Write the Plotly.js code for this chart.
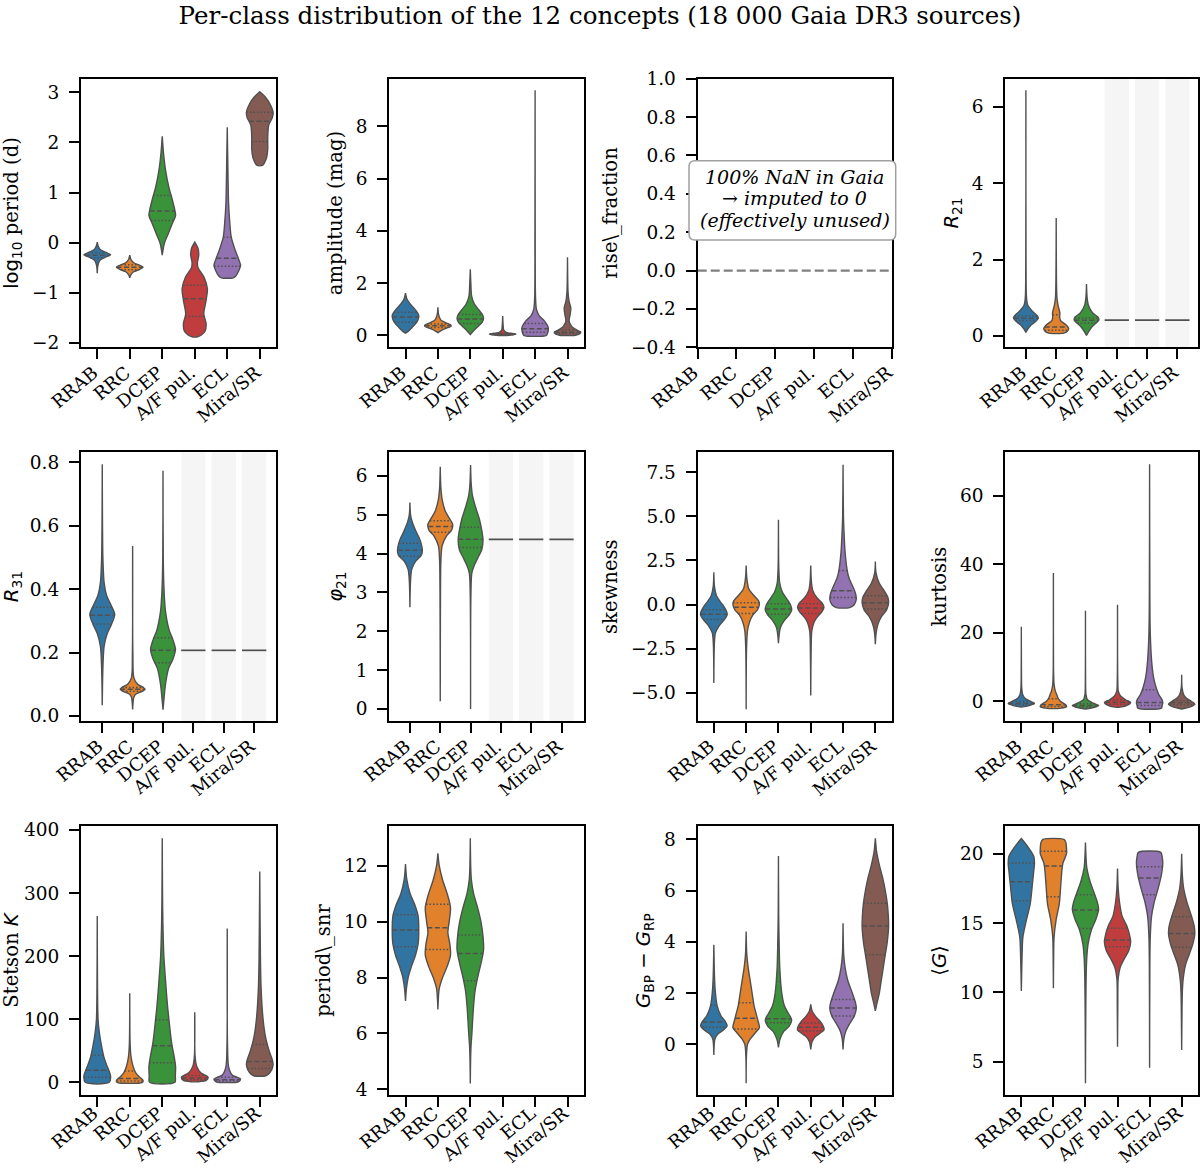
<!DOCTYPE html>
<html><head><meta charset="utf-8">
<script src="https://cdn.plot.ly/plotly-3.0.1.min.js"></script>
<style>body{margin:0;background:#fff}#chart{width:1200px;height:1171px}</style>
</head><body><div id="chart"></div>
<script>
// ---------------- DATA ----------------
const classes = ["RRAB", "RRC", "DCEP", "A/F pul.", "ECL", "Mira/SR"];

// Violin outlines: [value, relative half-width (1 = widest)] ; quartiles: [q1, median, q3]
const logPeriodProfiles = [
  [[-0.61,0],[-0.45,0.05],[-0.35,0.2],[-0.29,0.6],[-0.24,1.0],[-0.19,0.6],[-0.13,0.2],[-0.05,0.05],[0.01,0]],
  [[-0.70,0],[-0.64,0.08],[-0.58,0.3],[-0.53,0.75],[-0.49,1.0],[-0.45,0.75],[-0.40,0.3],[-0.33,0.08],[-0.25,0]],
  [[-0.25,0],[-0.02,0.15],[0.18,0.45],[0.38,0.75],[0.54,1.0],[0.64,0.95],[0.91,0.7],[1.1,0.5],[1.44,0.25],[1.77,0.1],[2.12,0]],
  [[-1.88,0.15],[-1.84,0.5],[-1.76,0.78],[-1.61,0.85],[-1.42,0.68],[-1.15,0.85],[-0.92,0.95],[-0.69,0.7],[-0.5,0.25],[-0.4,0.2],[-0.25,0.3],[-0.12,0.25],[0.01,0]],
  [[-0.70,0.45],[-0.66,0.65],[-0.55,0.88],[-0.45,1.0],[-0.35,0.88],[-0.15,0.6],[0.11,0.3],[0.44,0.18],[0.78,0.1],[1.44,0.05],[2.30,0]],
  [[1.54,0.2],[1.59,0.35],[1.7,0.52],[1.87,0.6],[2.1,0.6],[2.34,0.67],[2.5,0.95],[2.6,1.0],[2.77,0.76],[2.9,0.43],[3.01,0]]
];
const logPeriodQuartiles = [[-0.30,-0.25,-0.20],[-0.54,-0.49,-0.44],[0.44,0.63,0.94],[-1.47,-1.12,-0.85],[-0.47,-0.31,0.11],[2.02,2.42,2.60]];

const amplitudeProfiles = [
  [[0.08,0],[0.15,0.2],[0.3,0.5],[0.5,0.85],[0.7,1.0],[0.8,0.97],[1.0,0.7],[1.2,0.35],[1.4,0.1],[1.61,0]],
  [[0.10,0],[0.2,0.3],[0.3,0.8],[0.35,1.0],[0.4,0.95],[0.5,0.5],[0.6,0.2],[0.8,0.05],[1.07,0]],
  [[0.03,0],[0.2,0.3],[0.35,0.6],[0.5,0.9],[0.65,1.0],[0.8,0.9],[1.0,0.6],[1.2,0.3],[1.5,0.1],[2.0,0.04],[2.53,0]],
  [[0.0,0.5],[0.02,0.8],[0.04,1.0],[0.06,0.9],[0.1,0.3],[0.2,0.08],[0.4,0.03],[0.74,0]],
  [[0.0,0.85],[0.1,0.95],[0.25,1.0],[0.35,0.95],[0.55,0.7],[0.75,0.3],[1.0,0.1],[1.5,0.03],[3.0,0.01],[9.38,0]],
  [[0.0,0.6],[0.05,0.9],[0.12,1.0],[0.2,0.7],[0.35,0.3],[0.55,0.12],[0.8,0.2],[1.05,0.25],[1.3,0.12],[1.6,0.05],[2.0,0.02],[2.99,0]]
];
const amplitudeQuartiles = [[0.50,0.70,0.88],[0.30,0.36,0.43],[0.45,0.62,0.80],[0.03,0.05,0.07],[0.12,0.25,0.45],[0.07,0.12,0.20]];

const riseFractionValue = 0.0;   // 100% NaN, imputed to 0

const r21Profiles = [
  [[0.09,0],[0.18,0.15],[0.28,0.4],[0.38,0.8],[0.47,1.0],[0.55,0.85],[0.65,0.5],[0.8,0.15],[1.0,0.05],[2.0,0.01],[6.44,0]],
  [[0.07,0.6],[0.12,0.9],[0.2,1.0],[0.3,0.75],[0.4,0.35],[0.5,0.28],[0.6,0.3],[0.8,0.15],[1.0,0.06],[1.5,0.02],[3.09,0]],
  [[0.01,0],[0.1,0.15],[0.22,0.4],[0.33,0.75],[0.42,1.0],[0.5,0.9],[0.6,0.5],[0.8,0.15],[1.0,0.05],[1.36,0]],
  null, null, null
];
const r21Quartiles = [[0.40,0.46,0.52],[0.15,0.23,0.55],[0.33,0.41,0.47],null,null,null];
const r21Constant = 0.41;

const r31Profiles = [
  [[0.034,0],[0.15,0.05],[0.22,0.15],[0.26,0.4],[0.29,0.75],[0.32,1.0],[0.35,0.7],[0.38,0.35],[0.42,0.15],[0.5,0.05],[0.6,0.02],[0.794,0]],
  [[0.02,0],[0.04,0.03],[0.06,0.1],[0.07,0.3],[0.078,0.8],[0.084,1.0],[0.09,0.85],[0.1,0.4],[0.12,0.1],[0.2,0.02],[0.536,0]],
  [[0.02,0],[0.05,0.07],[0.1,0.2],[0.15,0.45],[0.18,0.8],[0.21,1.0],[0.24,0.8],[0.27,0.5],[0.33,0.2],[0.4,0.08],[0.5,0.02],[0.774,0]],
  null, null, null
];
const r31Quartiles = [[0.29,0.318,0.343],[0.078,0.084,0.090],[0.168,0.207,0.247],null,null,null];
const r31Constant = 0.207;

const phi21Profiles = [
  [[2.62,0],[3.3,0.05],[3.6,0.15],[3.8,0.45],[3.95,0.9],[4.07,1.0],[4.2,0.95],[4.4,0.75],[4.6,0.45],[4.8,0.2],[5.0,0.05],[5.32,0]],
  [[0.2,0],[3.0,0.02],[3.8,0.05],[4.2,0.15],[4.45,0.5],[4.6,0.9],[4.75,1.0],[4.9,0.75],[5.1,0.4],[5.4,0.15],[5.7,0.05],[6.24,0]],
  [[0,0],[3.0,0.03],[3.5,0.1],[3.7,0.3],[3.9,0.6],[4.1,0.9],[4.35,1.0],[4.6,0.9],[4.9,0.7],[5.2,0.4],[5.5,0.15],[5.8,0.05],[6.28,0]],
  null, null, null
];
const phi21Quartiles = [[3.93,4.09,4.27],[4.55,4.70,4.85],[4.16,4.37,4.68],null,null,null];
const phi21Constant = 4.37;

const skewnessProfiles = [
  [[-4.45,0],[-2.2,0.04],[-1.6,0.12],[-1.2,0.4],[-0.9,0.75],[-0.6,1.0],[-0.4,0.97],[-0.1,0.75],[0.2,0.45],[0.5,0.2],[1.0,0.05],[1.83,0]],
  [[-5.93,0],[-2.5,0.03],[-1.5,0.1],[-1.0,0.25],[-0.6,0.5],[-0.3,0.85],[0.0,1.0],[0.2,0.95],[0.5,0.6],[0.9,0.2],[1.5,0.05],[2.21,0]],
  [[-2.19,0],[-1.8,0.04],[-1.3,0.15],[-0.9,0.45],[-0.6,0.8],[-0.3,1.0],[0.0,0.9],[0.3,0.65],[0.7,0.3],[1.2,0.1],[2.0,0.03],[4.8,0]],
  [[-5.15,0],[-2.5,0.03],[-1.5,0.08],[-1.0,0.25],[-0.7,0.5],[-0.4,0.85],[-0.15,1.0],[0.1,0.85],[0.4,0.45],[0.8,0.15],[1.3,0.05],[2.21,0]],
  [[-0.17,0.5],[0.0,0.85],[0.3,1.0],[0.6,0.95],[1.0,0.75],[1.5,0.45],[2.0,0.3],[3.0,0.15],[4.0,0.08],[5.0,0.03],[7.92,0]],
  [[-2.25,0],[-1.6,0.06],[-1.1,0.2],[-0.7,0.45],[-0.3,0.85],[0.1,1.0],[0.4,0.95],[0.8,0.65],[1.2,0.3],[1.8,0.05],[2.44,0]]
];
const skewnessQuartiles = [[-0.85,-0.55,-0.30],[-0.50,-0.15,0.10],[-0.55,-0.25,0.05],[-0.50,-0.20,0.05],[0.40,0.78,1.93],[-0.25,0.10,0.50]];

const kurtosisProfiles = [
  [[-1.65,0],[-1.2,0.6],[-0.6,1.0],[0,0.7],[1,0.25],[2,0.1],[4,0.03],[8,0.01],[21.8,0]],
  [[-1.94,0.6],[-1.5,1.0],[-1,0.95],[0,0.55],[1,0.35],[2,0.25],[3,0.15],[5,0.05],[10,0.01],[37.4,0]],
  [[-2.2,0],[-1.7,0.7],[-1.2,1.0],[-0.5,0.6],[0.5,0.15],[2,0.04],[5,0.01],[26.4,0]],
  [[-1.65,0.2],[-1.0,0.8],[-0.3,1.0],[0.5,0.6],[1.5,0.25],[3,0.06],[6,0.02],[28.2,0]],
  [[-1.94,0.9],[-1.2,0.95],[-0.5,1.0],[0.5,0.95],[2,0.7],[4,0.5],[7,0.3],[12,0.15],[20,0.05],[30,0.02],[69.1,0]],
  [[-2.2,0],[-1.5,0.7],[-0.8,1.0],[0,0.75],[1,0.35],[2,0.15],[4,0.03],[7.8,0]]
];
const kurtosisQuartiles = [[-1.0,-0.6,0.0],[-1.5,-1.0,0.8],[-1.6,-1.2,-0.7],[-0.8,-0.2,0.5],[-1.2,-0.3,3.4],[-1.0,-0.4,0.2]];

const stetsonProfiles = [
  [[0,0.9],[10,1.0],[25,0.75],[40,0.5],[60,0.3],[80,0.15],[100,0.06],[150,0.02],[263.7,0]],
  [[0,0.95],[3,1.0],[8,0.75],[15,0.45],[25,0.25],[40,0.1],[60,0.03],[141,0]],
  [[0,0.95],[10,0.98],[25,1.0],[40,0.9],[60,0.72],[80,0.6],[100,0.5],[120,0.4],[160,0.25],[200,0.12],[250,0.05],[300,0.02],[386.8,0]],
  [[1,0.3],[3,0.85],[8,1.0],[15,0.45],[25,0.15],[40,0.03],[111,0]],
  [[0,0.7],[1,0.85],[5,1.0],[12,0.35],[25,0.1],[60,0.02],[244,0]],
  [[10,0.4],[13,0.65],[20,0.9],[28,1.0],[35,0.95],[50,0.7],[70,0.45],[100,0.25],[150,0.1],[200,0.05],[334,0]]
];
const stetsonQuartiles = [[8,19,43],[2,6,18],[31,58,99],[4,7,11],[2,4,8],[22,33,60]];

const periodSnrProfiles = [
  [[7.16,0],[7.6,0.07],[8.0,0.2],[8.4,0.45],[8.8,0.75],[9.2,0.95],[9.7,1.0],[10.2,0.95],[10.6,0.7],[11.0,0.35],[11.5,0.1],[12.06,0]],
  [[6.86,0],[7.2,0.03],[7.6,0.1],[8.0,0.35],[8.4,0.7],[8.8,0.95],[9.2,0.9],[9.6,0.75],[10.0,0.85],[10.5,0.95],[11.0,0.7],[11.5,0.35],[12.0,0.1],[12.44,0]],
  [[4.21,0],[5.0,0.02],[5.5,0.05],[6.0,0.12],[6.5,0.18],[7.0,0.25],[7.5,0.35],[8.0,0.55],[8.5,0.8],[9.0,1.0],[9.5,0.95],[10.0,0.8],[10.5,0.55],[11.0,0.25],[11.5,0.08],[12.0,0.03],[12.98,0]],
  null, null, null
];
const periodSnrQuartiles = [[9.10,9.70,10.25],[9.00,9.78,10.62],[7.89,8.86,9.52],null,null,null];

const bpRpProfiles = [
  [[-0.42,0],[0,0.03],[0.2,0.08],[0.4,0.3],[0.55,0.7],[0.72,1.0],[0.9,0.85],[1.1,0.55],[1.5,0.25],[2.0,0.12],[2.5,0.06],[3.0,0.03],[3.88,0]],
  [[-1.52,0],[-0.5,0.02],[0,0.1],[0.2,0.3],[0.45,0.7],[0.65,1.0],[0.9,0.9],[1.2,0.75],[1.5,0.6],[2.0,0.45],[2.5,0.3],[3.0,0.15],[3.5,0.05],[4.4,0]],
  [[-0.12,0],[0.2,0.12],[0.5,0.4],[0.7,0.8],[0.95,1.0],[1.2,0.75],[1.5,0.45],[2.0,0.25],[3.0,0.1],[4.0,0.05],[5.0,0.02],[7.35,0]],
  [[-0.2,0],[0.1,0.1],[0.3,0.35],[0.45,0.75],[0.56,1.0],[0.7,0.95],[0.9,0.7],[1.1,0.35],[1.3,0.1],[1.56,0]],
  [[-0.2,0],[0.2,0.06],[0.5,0.2],[0.8,0.5],[1.1,0.85],[1.4,1.0],[1.6,0.95],[2.0,0.7],[2.5,0.35],[3.0,0.15],[3.5,0.05],[4.72,0]],
  [[1.3,0],[1.6,0.12],[2.0,0.3],[2.5,0.45],[3.0,0.6],[3.5,0.75],[4.0,0.9],[4.6,1.0],[5.0,0.98],[5.5,0.9],[6.0,0.75],[6.5,0.55],[7.0,0.3],[7.5,0.1],[8.04,0]]
];
const bpRpQuartiles = [[0.66,0.87,1.52],[0.60,1.02,1.62],[0.84,1.00,2.45],[0.52,0.66,0.83],[1.10,1.42,1.75],[3.49,4.62,5.50]];

const meanGProfiles = [
  [[10.1,0],[12.8,0.06],[14.0,0.12],[15.2,0.38],[16.4,0.68],[17.6,0.82],[18.8,0.95],[19.3,1.0],[19.8,0.95],[20.5,0.5],[21.1,0]],
  [[10.3,0],[12.6,0.02],[14.0,0.05],[15.2,0.2],[16.4,0.45],[17.6,0.55],[19.3,0.72],[20.0,1.0],[20.3,1.0],[20.8,0.95],[21.03,0.8]],
  [[3.44,0],[8,0.02],[11,0.05],[12.5,0.1],[13.5,0.2],[14.5,0.45],[15.3,0.8],[16.0,1.0],[16.5,0.9],[17.2,0.65],[18,0.35],[19,0.1],[20,0.03],[20.8,0]],
  [[6.08,0],[9,0.02],[11,0.05],[11.8,0.2],[12.4,0.5],[13.0,0.85],[13.65,1.0],[14.2,0.9],[14.8,0.7],[15.5,0.35],[16.5,0.15],[17.5,0.05],[18.94,0]],
  [[4.57,0],[12,0.02],[14,0.05],[15.5,0.15],[16.5,0.35],[17.5,0.65],[18.5,0.9],[19.3,1.0],[19.8,0.95],[20.1,0.85]],
  [[5.84,0],[8,0.02],[10,0.05],[11,0.12],[12,0.3],[12.8,0.6],[13.5,0.85],[14.25,1.0],[14.8,0.95],[15.5,0.75],[16.5,0.4],[17.5,0.15],[18.5,0.05],[20.0,0]]
];
const meanGQuartiles = [[16.61,17.98,19.33],[16.90,19.11,20.17],[14.60,15.95,17.04],[13.29,13.77,14.62],[17.04,18.25,19.06],[13.25,14.25,15.46]];

const noteLines = ["100% NaN in Gaia", "→ imputed to 0", "(effectively unused)"];

// ---------------- STYLE ----------------
const fillColors = ["#3274a1","#e1812c","#3a923a","#c03d3e","#9372b2","#845b53"];
const EDGE = "#505050";
const HALF = 0.41;
const SERIF = "DejaVu Serif";
const SANS = "DejaVu Sans";
const TICK_SIZE = 18.5, XTICK_SIZE = 18, LABEL_SIZE = 19.6;
const sans = t => `<span style="font-family:'${SANS}'">${t}</span>`;

const colDom = [[81,276],[389.3,583.7],[697.7,891.5],[1005.3,1197.7]].map(a => [a[0]/1200, a[1]/1200]);
const rowDom = [[78.7,347.3],[452.3,721.0],[826,1095]].map(a => [1 - a[1]/1171, 1 - a[0]/1171]);
const rowLabelStandoff = [-4, -4, -11];

const panels = [
  {prof: logPeriodProfiles, q: logPeriodQuartiles, title: sans("log<sub>10</sub>") + " period (d)", yr: [-2.086, 3.27], dtick: 1, xr: [-0.5, 5.5]},
  {prof: amplitudeProfiles, q: amplitudeQuartiles, title: "amplitude (mag)", yr: [-0.46, 9.82], dtick: 2, xr: [-0.5, 5.5]},
  {prof: null, q: null, title: "rise\\_fraction", yr: [-0.4, 1.0], dtick: 0.2, fmt: ".1f", xr: [0, 5], rise: true},
  {prof: r21Profiles, q: r21Quartiles, flat: r21Constant, title: sans("<i>R</i><sub>21</sub>"), yr: [-0.30, 6.74], dtick: 2, xr: [-0.68, 5.67]},
  {prof: r31Profiles, q: r31Quartiles, flat: r31Constant, title: sans("<i>R</i><sub>31</sub>"), yr: [-0.016, 0.832], dtick: 0.2, fmt: ".1f", xr: [-0.70, 5.72]},
  {prof: phi21Profiles, q: phi21Quartiles, flat: phi21Constant, title: sans("<i>φ</i><sub>21</sub>"), yr: [-0.31, 6.61], dtick: 1, xr: [-0.68, 5.73]},
  {prof: skewnessProfiles, q: skewnessQuartiles, title: "skewness", yr: [-6.60, 8.63], dtick: 2.5, fmt: ".1f", xr: [-0.5, 5.5]},
  {prof: kurtosisProfiles, q: kurtosisQuartiles, title: "kurtosis", yr: [-5.7, 72.6], dtick: 20, xr: [-0.5, 5.5]},
  {prof: stetsonProfiles, q: stetsonQuartiles, title: "Stetson " + sans("<i>K</i>"), yr: [-20.1, 406.3], dtick: 100, xr: [-0.5, 5.5]},
  {prof: periodSnrProfiles, q: periodSnrQuartiles, title: "period\\_snr", yr: [3.80, 13.42], dtick: 2, xr: [-0.5, 5.5]},
  {prof: bpRpProfiles, q: bpRpQuartiles, title: sans("<i>G</i><sub>BP</sub> − <i>G</i><sub>RP</sub>"), yr: [-1.98, 8.52], dtick: 2, xr: [-0.5, 5.5]},
  {prof: meanGProfiles, q: meanGQuartiles, title: sans("⟨<i>G</i>⟩"), yr: [2.6, 22.0], dtick: 5, xr: [-0.5, 5.5]}
];

function widthAt(prof, v) {
  if (v <= prof[0][0]) return prof[0][1];
  for (let j = 1; j < prof.length; j++) {
    if (v <= prof[j][0]) {
      const a = prof[j-1], b = prof[j];
      return a[1] + (b[1] - a[1]) * (v - a[0]) / (b[0] - a[0]);
    }
  }
  return prof[prof.length-1][1];
}

const traces = [];
const shapes = [];
const annotations = [];
const layout = {
  width: 1200, height: 1171,
  margin: {l: 0, r: 0, t: 0, b: 0},
  paper_bgcolor: "#fff", plot_bgcolor: "#fff",
  showlegend: false,
  font: {family: SERIF, color: "#000"},
  title: {text: "Per-class distribution of the 12 concepts (18 000 Gaia DR3 sources)",
          font: {family: SERIF, size: 24.5, color: "#000"},
          x: 0.5, xanchor: "center", xref: "paper", y: 1 - 15/1171, yanchor: "middle", yref: "container"}
};

panels.forEach((p, k) => {
  const n = k + 1;
  const xa = n === 1 ? "x" : "x" + n, ya = n === 1 ? "y" : "y" + n;
  const col = k % 4, row = Math.floor(k / 4);
  layout[n === 1 ? "xaxis" : "xaxis" + n] = {
    domain: colDom[col], range: p.xr, anchor: ya,
    tickmode: "array", tickvals: classes.map((c, i) => i), ticktext: classes, tickangle: -40,
    ticks: "outside", ticklen: 10, tickwidth: 2, tickcolor: "#000",
    ticklabelstandoff: rowLabelStandoff[row], ticklabelshift: -4,
    showline: true, linecolor: "#000", linewidth: 2.1, mirror: true,
    showgrid: false, zeroline: false, fixedrange: true,
    tickfont: {family: SERIF, size: XTICK_SIZE, color: "#000"}
  };
  layout[n === 1 ? "yaxis" : "yaxis" + n] = {
    domain: rowDom[row], range: p.yr, anchor: xa,
    tickmode: "linear", tick0: 0, dtick: p.dtick, tickformat: p.fmt || "",
    ticks: "outside", ticklen: 10, tickwidth: 2, tickcolor: "#000",
    ticklabelstandoff: 6,
    showline: true, linecolor: "#000", linewidth: 2.1, mirror: true,
    showgrid: false, zeroline: false, fixedrange: true,
    tickfont: {family: SERIF, size: TICK_SIZE, color: "#000"},
    title: {text: p.title, font: {family: SERIF, size: LABEL_SIZE, color: "#000"}, standoff: 8}
  };

  if (p.rise) {
    traces.push({type: "scatter", mode: "lines", xaxis: xa, yaxis: ya, x: [p.xr[0], p.xr[1]], y: [riseFractionValue, riseFractionValue],
      line: {color: "#808080", width: 2.2, dash: "9px,4px"}, hoverinfo: "skip"});
    return;
  }

  const medX = [], medY = [], qX = [], qY = [];
  classes.forEach((c, i) => {
    const prof = p.prof[i];
    if (!prof) {
      if (p.flat === undefined) return;   // no data drawn for this class
      // constant class: shaded band + flat line
      shapes.push({type: "rect", layer: "below", xref: xa, yref: ya + " domain", x0: i - 0.4, x1: i + 0.4, y0: 0, y1: 1,
        fillcolor: "#f5f5f5", line: {width: 0}});
      traces.push({type: "scatter", mode: "lines", xaxis: xa, yaxis: ya, x: [i - 0.4, i + 0.4], y: [p.flat, p.flat],
        line: {color: EDGE, width: 1.7}, hoverinfo: "skip"});
      return;
    }
    const s = prof.slice().sort((a, b) => a[0] - b[0]);
    const xs = [], ys = [];
    s.forEach(pt => { xs.push(i + HALF * pt[1]); ys.push(pt[0]); });
    for (let j = s.length - 1; j >= 0; j--) { xs.push(i - HALF * s[j][1]); ys.push(s[j][0]); }
    xs.push(xs[0]); ys.push(ys[0]);
    traces.push({type: "scatter", mode: "lines", xaxis: xa, yaxis: ya, x: xs, y: ys,
      fill: "toself", fillcolor: fillColors[i], line: {color: EDGE, width: 1.4, shape: "spline", smoothing: 0.8},
      hoverinfo: "skip"});
    const qq = p.q[i];
    qq.forEach((v, j) => {
      const w = HALF * widthAt(s, v);
      if (j === 1) { medX.push(i - w, i + w, null); medY.push(v, v, null); }
      else { qX.push(i - w, i + w, null); qY.push(v, v, null); }
    });
  });
  traces.push({type: "scatter", mode: "lines", xaxis: xa, yaxis: ya, x: qX, y: qY,
    line: {color: EDGE, width: 1.5, dash: "1.5px,2px"}, hoverinfo: "skip", connectgaps: false});
  traces.push({type: "scatter", mode: "lines", xaxis: xa, yaxis: ya, x: medX, y: medY,
    line: {color: EDGE, width: 1.5, dash: "5px,2.5px"}, hoverinfo: "skip", connectgaps: false});
});

// annotation box in the rise_fraction panel (rounded corners)
(function () {
  const L = 689/1200, R = 895.7/1200, T = 1 - 160.7/1171, B = 1 - 240/1171;
  const rx = 6/1200, ry = 6/1171;
  const path = `M ${L+rx},${T} L ${R-rx},${T} Q ${R},${T} ${R},${T-ry} L ${R},${B+ry} Q ${R},${B} ${R-rx},${B} ` +
               `L ${L+rx},${B} Q ${L},${B} ${L},${B+ry} L ${L},${T-ry} Q ${L},${T} ${L+rx},${T} Z`;
  shapes.push({type: "path", layer: "above", xref: "paper", yref: "paper", path: path,
    fillcolor: "#ffffff", line: {color: "#a0a0a0", width: 1.5}});
  const linePos = [0.6352, 0.5547, 0.4739];
  noteLines.forEach((t, j) => annotations.push({xref: "x3 domain", yref: "y3 domain", x: 0.5, y: linePos[j],
    xanchor: "center", yanchor: "middle", showarrow: false,
    text: "<i>" + t + "</i>", font: {family: SERIF, size: 19, color: "#000"}}));
})();

layout.shapes = shapes;
layout.annotations = annotations;
Plotly.newPlot("chart", traces, layout, {displayModeBar: false, staticPlot: true});
</script></body></html>
